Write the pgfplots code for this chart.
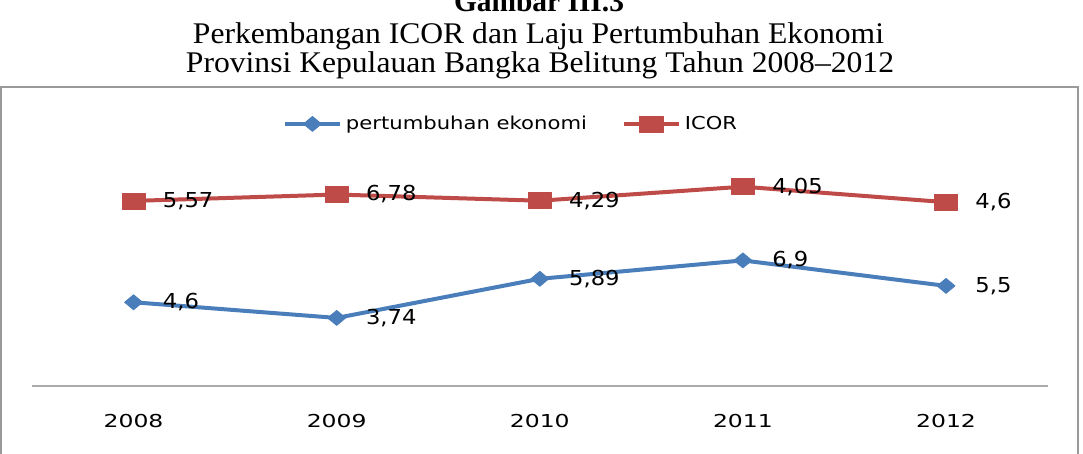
\documentclass[border=0pt]{standalone}
\usepackage{pgfplots}
\pgfplotsset{compat=1.18}
\usepackage{fontspec}
\usepackage{graphicx}
\setmainfont{DejaVu Sans}
\newfontfamily\chartfont{DejaVu Sans}
\newfontfamily\titlefont{Liberation Serif}
\definecolor{seriesblue}{HTML}{4A7EBB}
\definecolor{seriesred}{HTML}{BE4B48}
\definecolor{framegray}{HTML}{9A9A9A}
\definecolor{axisgray}{HTML}{ABABAB}

\begin{document}
\begin{tikzpicture}
\useasboundingbox (0,0) rectangle (541.5pt,227pt);
\clip (0,0) rectangle (541.5pt,227pt);
\begin{scope}[x=0.5pt,y=0.5pt]
  % figure caption
  \node[anchor=base,inner sep=0pt] at (539,442)
    {\resizebox{85pt}{\height}{\titlefont\bfseries\fontsize{15}{17}\selectfont Gambar III.3}};
  \node[anchor=base,inner sep=0pt] at (538.5,410)
    {\resizebox{345.5pt}{\height}{\titlefont\fontsize{15}{17}\selectfont Perkembangan ICOR dan Laju Pertumbuhan Ekonomi}};
  \node[anchor=base,inner sep=0pt] at (540,381)
    {\resizebox{354pt}{\height}{\titlefont\fontsize{15}{17}\selectfont Provinsi Kepulauan Bangka Belitung Tahun 2008–2012}};
  % chart frame
  \draw[framegray, line width=1pt] (1,-10) -- (1,367) -- (1078,367) -- (1078,-10);
\end{scope}

\begin{axis}[
  at={(16pt,34pt)}, anchor=south west,
  scale only axis, width=507.8pt, height=109.2pt,
  xmin=-0.5, xmax=4.5, ymin=0, ymax=12,
  axis x line*=bottom, axis y line=none,
  x axis line style={axisgray, line width=1pt, -},
  xtick={0,1,2,3,4},
  xticklabels={\scalebox{1.32}[1]{2008},\scalebox{1.32}[1]{2009},\scalebox{1.32}[1]{2010},\scalebox{1.32}[1]{2011},\scalebox{1.32}[1]{2012}},
  major tick length=0pt,
  xticklabel style={anchor=center, yshift=-17.75pt, font=\chartfont\fontsize{8.9}{10}\selectfont},
  stack plots=y,
  clip=false,
  /pgf/number format/.cd, use comma, assume math mode=true, /pgfplots/.cd,
  point meta=explicit,
  nodes near coords={\scalebox{1.1}[1]{\pgfmathprintnumber{\pgfplotspointmeta}}},
  every node near coord/.append style={anchor=west, inner sep=0pt, xshift=14.5pt, text=black,
    font=\chartfont\fontsize{10.3}{12}\selectfont},
  legend columns=2,
  legend style={at={(0.2471,1.2)}, anchor=west, draw=none, fill=none,
    inner sep=0pt, outer sep=0pt, nodes={inner sep=0pt},
    /tikz/every odd column/.append style={column sep=2pt},
    /tikz/every even column/.append style={column sep=17.5pt}},
  legend image code/.code={\draw[mark repeat=2,mark phase=2]
    plot coordinates {(0pt,0pt) (13.75pt,0pt) (27.5pt,0pt)};},
]
\addplot[seriesblue, line width=2pt, line join=round,
  mark=diamond*, mark size=3.75pt,
  mark options={xscale=1.6, line width=0.4pt, solid, fill=seriesblue}]
  coordinates {(0,4.6)[4.6] (1,3.74)[3.74] (2,5.89)[5.89] (3,6.9)[6.9] (4,5.5)[5.5]};
\addlegendentry{\resizebox{120.5pt}{\height}{\chartfont\fontsize{8.9}{10}\selectfont pertumbuhan ekonomi}}
\addplot[seriesred, line width=2pt, line join=round,
  mark=square*, mark size=4pt,
  mark options={xscale=1.45, line width=0.4pt, solid, fill=seriesred}]
  coordinates {(0,5.57)[5.57] (1,6.78)[6.78] (2,4.29)[4.29] (3,4.05)[4.05] (4,4.6)[4.6]};
\addlegendentry{\resizebox{26pt}{\height}{\chartfont\fontsize{8.9}{10}\selectfont ICOR}}
\end{axis}
\end{tikzpicture}
\end{document}
